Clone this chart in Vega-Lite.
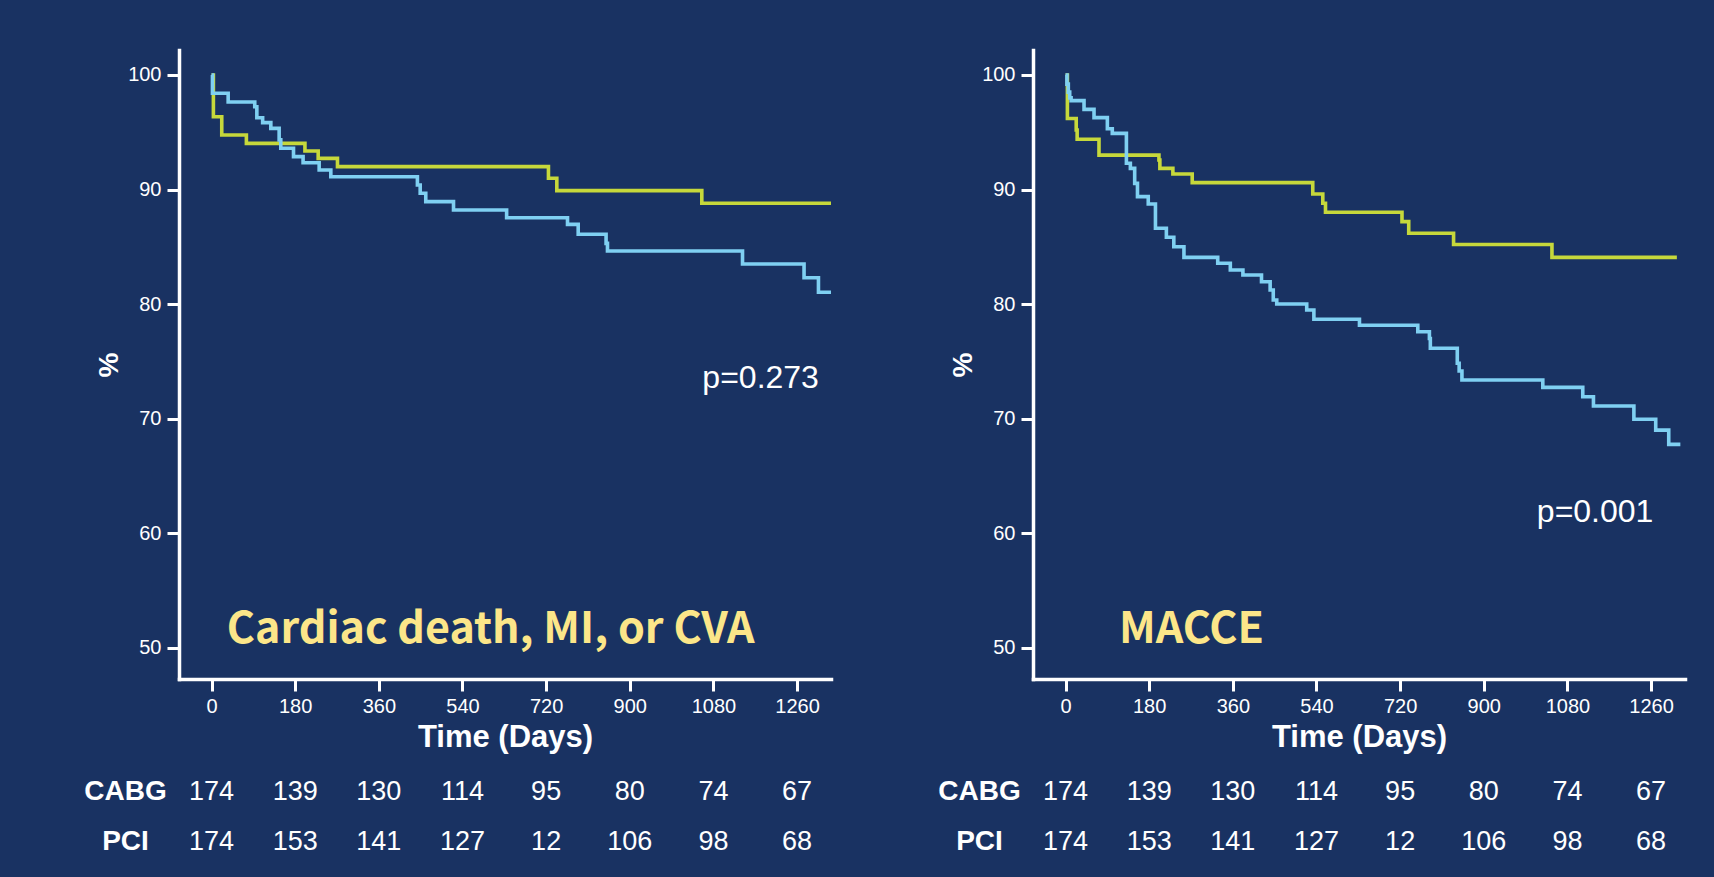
{
  "$schema": "https://vega.github.io/schema/vega-lite/v6.json",
  "autosize": {"type": "none"},
  "padding": {"left": 179, "top": 50, "right": 1535, "bottom": 827},
  "background": "#193262",
  "bounds": "flush",
  "columns": 2,
  "spacing": {"row": 112.7, "column": 202},
  "config": {
    "view": {"stroke": null},
    "font": "Liberation Sans",
    "axis": {
      "domainColor": "#ffffff", "domainWidth": 3.5, "domainCap": "square",
      "tickColor": "#ffffff", "tickWidth": 3, "tickSize": 12,
      "labelColor": "#ffffff", "labelFont": "Liberation Sans", "labelFontSize": 20,
      "titleColor": "#ffffff", "titleFont": "Liberation Sans", "grid": false,
      "labelFlush": false, "labelOverlap": false
    }
  },
  "datasets": {
    "kmL": [
      {"group": "CABG", "day": 0, "surv": 100},
      {"group": "CABG", "day": 4, "surv": 96.35},
      {"group": "CABG", "day": 22, "surv": 94.76},
      {"group": "CABG", "day": 75, "surv": 94.03},
      {"group": "CABG", "day": 201, "surv": 93.36},
      {"group": "CABG", "day": 229.5, "surv": 92.72},
      {"group": "CABG", "day": 271, "surv": 92.0},
      {"group": "CABG", "day": 725, "surv": 90.98},
      {"group": "CABG", "day": 743, "surv": 89.9},
      {"group": "CABG", "day": 1055, "surv": 88.8},
      {"group": "CABG", "day": 1333, "surv": 88.8},
      {"group": "PCI", "day": 0, "surv": 100},
      {"group": "PCI", "day": 2, "surv": 98.4},
      {"group": "PCI", "day": 35.8, "surv": 97.64},
      {"group": "PCI", "day": 93, "surv": 97.23},
      {"group": "PCI", "day": 97.5, "surv": 96.27},
      {"group": "PCI", "day": 110, "surv": 95.84},
      {"group": "PCI", "day": 127.6, "surv": 95.34},
      {"group": "PCI", "day": 145.5, "surv": 94.33},
      {"group": "PCI", "day": 149, "surv": 93.6},
      {"group": "PCI", "day": 176.4, "surv": 92.87},
      {"group": "PCI", "day": 197, "surv": 92.34},
      {"group": "PCI", "day": 231.6, "surv": 91.71},
      {"group": "PCI", "day": 256.7, "surv": 91.12},
      {"group": "PCI", "day": 443, "surv": 90.4},
      {"group": "PCI", "day": 449, "surv": 89.67},
      {"group": "PCI", "day": 461, "surv": 88.94},
      {"group": "PCI", "day": 520.7, "surv": 88.21},
      {"group": "PCI", "day": 635, "surv": 87.54},
      {"group": "PCI", "day": 766, "surv": 86.96},
      {"group": "PCI", "day": 789, "surv": 86.09},
      {"group": "PCI", "day": 849, "surv": 85.3},
      {"group": "PCI", "day": 852, "surv": 84.63},
      {"group": "PCI", "day": 1142.6, "surv": 83.5},
      {"group": "PCI", "day": 1275, "surv": 82.3},
      {"group": "PCI", "day": 1306, "surv": 81.03},
      {"group": "PCI", "day": 1333, "surv": 81.03}
    ],
    "kmR": [
      {"group": "CABG", "day": 0, "surv": 100},
      {"group": "CABG", "day": 4, "surv": 96.2},
      {"group": "CABG", "day": 23, "surv": 95.2},
      {"group": "CABG", "day": 25, "surv": 94.39},
      {"group": "CABG", "day": 72, "surv": 93.0},
      {"group": "CABG", "day": 201, "surv": 92.58},
      {"group": "CABG", "day": 203, "surv": 91.85},
      {"group": "CABG", "day": 231, "surv": 91.36},
      {"group": "CABG", "day": 272.6, "surv": 90.6},
      {"group": "CABG", "day": 532, "surv": 89.61},
      {"group": "CABG", "day": 553.6, "surv": 88.8},
      {"group": "CABG", "day": 559.4, "surv": 88.01},
      {"group": "CABG", "day": 724, "surv": 87.2},
      {"group": "CABG", "day": 738.5, "surv": 86.18},
      {"group": "CABG", "day": 835, "surv": 85.2},
      {"group": "CABG", "day": 1046.7, "surv": 84.08},
      {"group": "CABG", "day": 1315.5, "surv": 84.08},
      {"group": "PCI", "day": 0, "surv": 100},
      {"group": "PCI", "day": 3, "surv": 99.2},
      {"group": "PCI", "day": 6, "surv": 98.5},
      {"group": "PCI", "day": 9, "surv": 98.0},
      {"group": "PCI", "day": 12, "surv": 97.76},
      {"group": "PCI", "day": 39.8, "surv": 97.0},
      {"group": "PCI", "day": 61.3, "surv": 96.28},
      {"group": "PCI", "day": 90, "surv": 95.31},
      {"group": "PCI", "day": 100.6, "surv": 94.9},
      {"group": "PCI", "day": 131, "surv": 92.3},
      {"group": "PCI", "day": 139.5, "surv": 91.85},
      {"group": "PCI", "day": 148.8, "surv": 90.54},
      {"group": "PCI", "day": 154.8, "surv": 89.38},
      {"group": "PCI", "day": 178, "surv": 88.74},
      {"group": "PCI", "day": 193.5, "surv": 86.62},
      {"group": "PCI", "day": 217, "surv": 85.83},
      {"group": "PCI", "day": 233, "surv": 85.01},
      {"group": "PCI", "day": 254.8, "surv": 84.08},
      {"group": "PCI", "day": 327.5, "surv": 83.56},
      {"group": "PCI", "day": 354.6, "surv": 82.97},
      {"group": "PCI", "day": 381.7, "surv": 82.54},
      {"group": "PCI", "day": 421.7, "surv": 81.95},
      {"group": "PCI", "day": 440.3, "surv": 81.23},
      {"group": "PCI", "day": 447, "surv": 80.36},
      {"group": "PCI", "day": 454.5, "surv": 80.01},
      {"group": "PCI", "day": 519, "surv": 79.48},
      {"group": "PCI", "day": 534.4, "surv": 78.67},
      {"group": "PCI", "day": 632.5, "surv": 78.15},
      {"group": "PCI", "day": 758, "surv": 77.59},
      {"group": "PCI", "day": 783, "surv": 77.0},
      {"group": "PCI", "day": 785, "surv": 76.14},
      {"group": "PCI", "day": 843, "surv": 74.83},
      {"group": "PCI", "day": 847, "surv": 74.16},
      {"group": "PCI", "day": 853, "surv": 73.37},
      {"group": "PCI", "day": 1027, "surv": 72.73},
      {"group": "PCI", "day": 1113, "surv": 71.91},
      {"group": "PCI", "day": 1136, "surv": 71.1},
      {"group": "PCI", "day": 1223, "surv": 69.94},
      {"group": "PCI", "day": 1270, "surv": 69.0},
      {"group": "PCI", "day": 1298, "surv": 67.75},
      {"group": "PCI", "day": 1323, "surv": 67.75}
    ],
    "pL": [{"day": 1307, "surv": 72.65, "label": "p=0.273"}],
    "pR": [{"day": 1265, "surv": 61.0, "label": "p=0.001"}],
    "tL": [{"day": 33, "surv": 50.4, "label": "Cardiac death, MI, or CVA"}],
    "tR": [{"day": 115, "surv": 50.45, "label": "MACCE"}],
    "risk": [
      {"group": "CABG", "day": 0, "n": "174"},
      {"group": "CABG", "day": 180, "n": "139"},
      {"group": "CABG", "day": 360, "n": "130"},
      {"group": "CABG", "day": 540, "n": "114"},
      {"group": "CABG", "day": 720, "n": "95"},
      {"group": "CABG", "day": 900, "n": "80"},
      {"group": "CABG", "day": 1080, "n": "74"},
      {"group": "CABG", "day": 1260, "n": "67"},
      {"group": "PCI", "day": 0, "n": "174"},
      {"group": "PCI", "day": 180, "n": "153"},
      {"group": "PCI", "day": 360, "n": "141"},
      {"group": "PCI", "day": 540, "n": "127"},
      {"group": "PCI", "day": 720, "n": "12"},
      {"group": "PCI", "day": 900, "n": "106"},
      {"group": "PCI", "day": 1080, "n": "98"},
      {"group": "PCI", "day": 1260, "n": "68"}
    ]
  },
  "concat": [
    {
      "width": 652, "height": 629,
      "layer": [
        {
          "data": {"name": "kmL"},
          "mark": {"type": "line", "interpolate": "step-after", "strokeWidth": 3.6},
          "encoding": {
            "x": {"field": "day", "type": "quantitative",
              "scale": {"domain": [-70, 1333], "nice": false, "zero": false},
              "axis": {"values": [0, 180, 360, 540, 720, 900, 1080, 1260], "format": "d", "title": "Time (Days)",
                "titleFontSize": 31, "titleFontWeight": "bold", "titleY": 67, "titleBaseline": "alphabetic", "labelPadding": 5}},
            "y": {"field": "surv", "type": "quantitative",
              "scale": {"domain": [47.27, 102.18], "nice": false, "zero": false},
              "axis": {"values": [50, 60, 70, 80, 90, 100], "format": "d", "title": "%", "titleFontSize": 28, "titleFontWeight": "bold",
                "titleX": -70, "titleY": 314.5, "titleAngle": -90, "titleAlign": "center", "titleBaseline": "middle", "labelPadding": 6}},
            "color": {"field": "group", "type": "nominal",
              "scale": {"domain": ["CABG", "PCI"], "range": ["#c6d83b", "#7fd0f2"]}, "legend": null}
          }
        },
        {
          "data": {"name": "pL"},
          "mark": {"type": "text", "align": "right", "baseline": "alphabetic", "fontSize": 32, "color": "#ffffff", "font": "Liberation Sans"},
          "encoding": {"x": {"field": "day", "type": "quantitative"}, "y": {"field": "surv", "type": "quantitative"}, "text": {"field": "label"}}
        },
        {
          "data": {"name": "tL"},
          "mark": {"type": "text", "align": "left", "baseline": "alphabetic", "fontSize": 43, "fontWeight": "bold", "color": "#fce689", "font": "Noto Sans CJK KR"},
          "encoding": {"x": {"field": "day", "type": "quantitative"}, "y": {"field": "surv", "type": "quantitative"}, "text": {"field": "label"}}
        }
      ]
    },
    {
      "width": 652, "height": 629,
      "layer": [
        {
          "data": {"name": "kmR"},
          "mark": {"type": "line", "interpolate": "step-after", "strokeWidth": 3.6},
          "encoding": {
            "x": {"field": "day", "type": "quantitative",
              "scale": {"domain": [-70, 1333], "nice": false, "zero": false},
              "axis": {"values": [0, 180, 360, 540, 720, 900, 1080, 1260], "format": "d", "title": "Time (Days)",
                "titleFontSize": 31, "titleFontWeight": "bold", "titleY": 67, "titleBaseline": "alphabetic", "labelPadding": 5}},
            "y": {"field": "surv", "type": "quantitative",
              "scale": {"domain": [47.27, 102.18], "nice": false, "zero": false},
              "axis": {"values": [50, 60, 70, 80, 90, 100], "format": "d", "title": "%", "titleFontSize": 28, "titleFontWeight": "bold",
                "titleX": -70, "titleY": 314.5, "titleAngle": -90, "titleAlign": "center", "titleBaseline": "middle", "labelPadding": 6}},
            "color": {"field": "group", "type": "nominal",
              "scale": {"domain": ["CABG", "PCI"], "range": ["#c6d83b", "#7fd0f2"]}, "legend": null}
          }
        },
        {
          "data": {"name": "pR"},
          "mark": {"type": "text", "align": "right", "baseline": "alphabetic", "fontSize": 32, "color": "#ffffff", "font": "Liberation Sans"},
          "encoding": {"x": {"field": "day", "type": "quantitative"}, "y": {"field": "surv", "type": "quantitative"}, "text": {"field": "label"}}
        },
        {
          "data": {"name": "tR"},
          "mark": {"type": "text", "align": "left", "baseline": "alphabetic", "fontSize": 43, "fontWeight": "bold", "color": "#fce689", "font": "Noto Sans CJK KR"},
          "encoding": {"x": {"field": "day", "type": "quantitative"}, "y": {"field": "surv", "type": "quantitative"}, "text": {"field": "label"}}
        }
      ]
    },
    {
      "width": 652, "height": 50,
      "data": {"name": "risk"},
      "mark": {"type": "text", "fontSize": 27, "color": "#ffffff", "baseline": "middle", "align": "center", "font": "Liberation Sans"},
      "encoding": {
        "x": {"field": "day", "type": "quantitative", "scale": {"domain": [-70, 1333], "nice": false, "zero": false}, "axis": null},
        "y": {"field": "group", "type": "nominal", "scale": {"type": "point", "domain": ["CABG", "PCI"], "padding": 0},
          "axis": {"title": null, "domain": false, "ticks": false, "tickSize": 0, "labelPadding": 54, "labelAlign": "center",
            "labelFontSize": 28, "labelFontWeight": "bold", "labelBaseline": "middle"}},
        "text": {"field": "n"}
      }
    },
    {
      "width": 652, "height": 50,
      "data": {"name": "risk"},
      "mark": {"type": "text", "fontSize": 27, "color": "#ffffff", "baseline": "middle", "align": "center", "font": "Liberation Sans"},
      "encoding": {
        "x": {"field": "day", "type": "quantitative", "scale": {"domain": [-70, 1333], "nice": false, "zero": false}, "axis": null},
        "y": {"field": "group", "type": "nominal", "scale": {"type": "point", "domain": ["CABG", "PCI"], "padding": 0},
          "axis": {"title": null, "domain": false, "ticks": false, "tickSize": 0, "labelPadding": 54, "labelAlign": "center",
            "labelFontSize": 28, "labelFontWeight": "bold", "labelBaseline": "middle"}},
        "text": {"field": "n"}
      }
    }
  ]
}
